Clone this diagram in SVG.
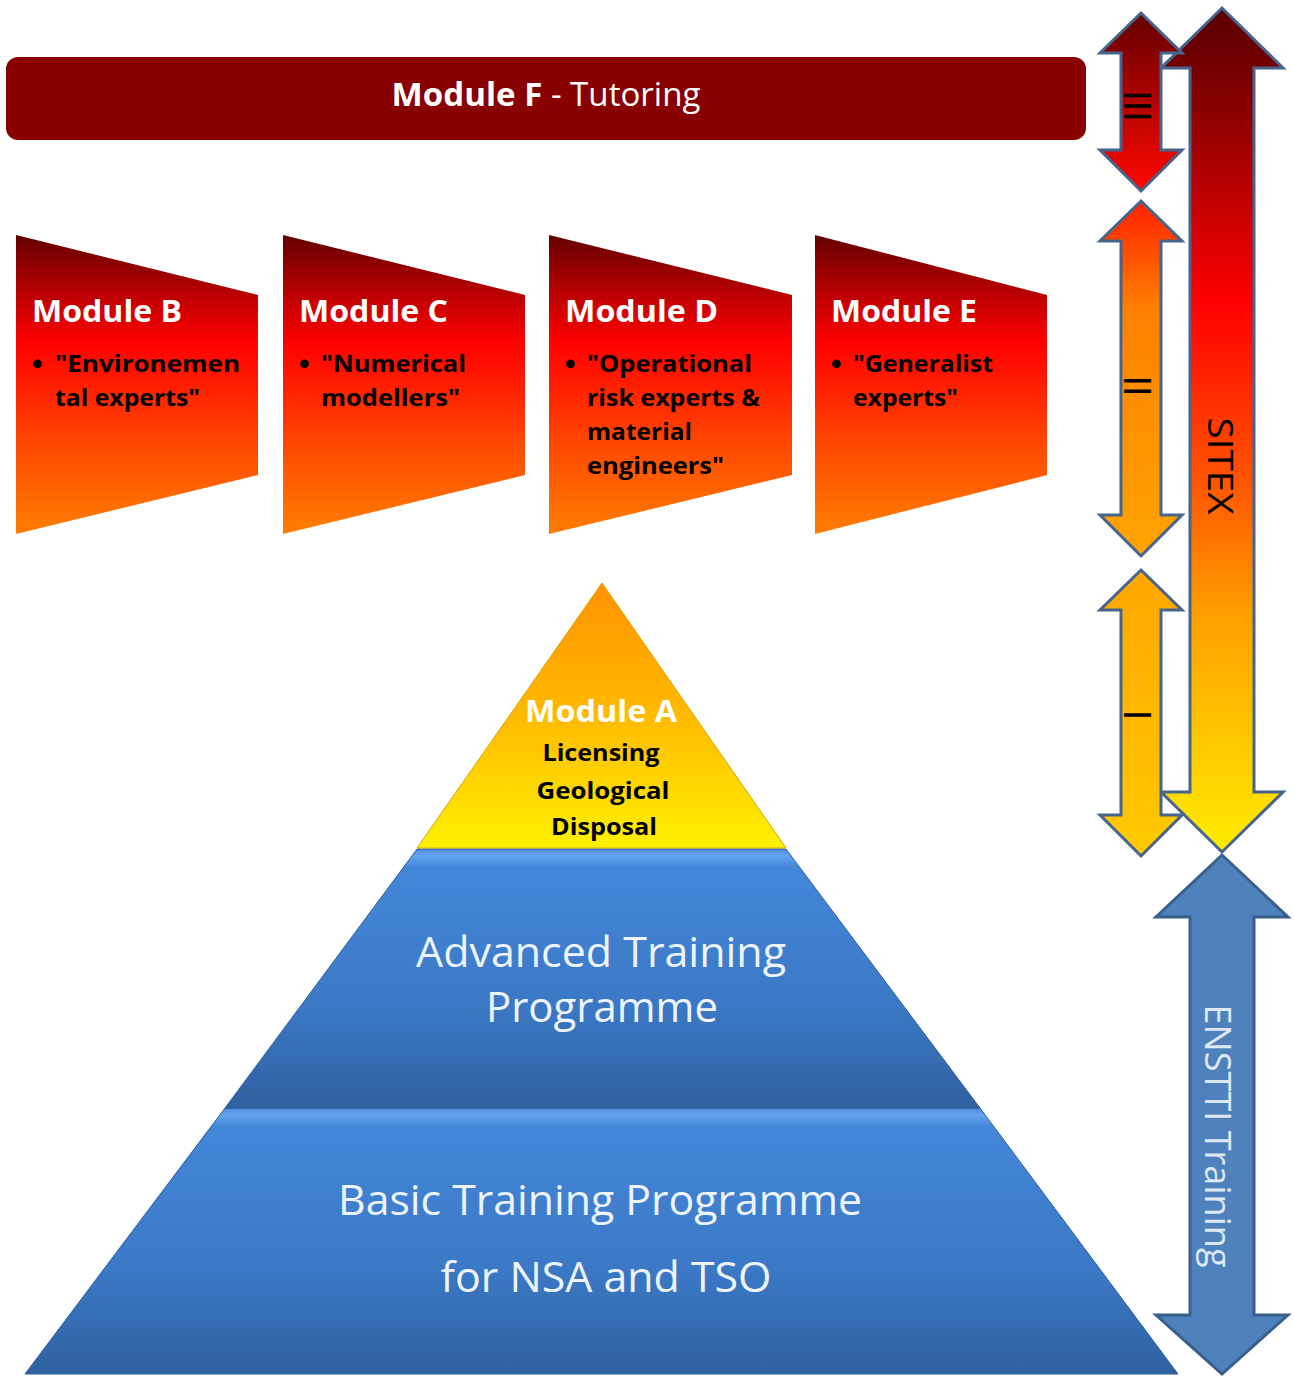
<svg xmlns="http://www.w3.org/2000/svg" width="1294" height="1376" viewBox="0 0 1294 1376">
<defs>
<linearGradient id="gMod" x1="0" y1="0" x2="0" y2="1">
<stop offset="0" stop-color="#640000"/>
<stop offset="0.22" stop-color="#c40000"/>
<stop offset="0.36" stop-color="#ff0000"/>
<stop offset="0.7" stop-color="#ff4800"/>
<stop offset="1" stop-color="#ff7e00"/>
</linearGradient>
<linearGradient id="gA" x1="0" y1="0" x2="0" y2="1">
<stop offset="0" stop-color="#ff9200"/>
<stop offset="0.5" stop-color="#ffba00"/>
<stop offset="1" stop-color="#fff000"/>
</linearGradient>
<linearGradient id="gBlue" x1="0" y1="0" x2="0" y2="1">
<stop offset="0" stop-color="#4a8ad8"/>
<stop offset="0.025" stop-color="#64a4ee"/>
<stop offset="0.07" stop-color="#4486d8"/>
<stop offset="0.6" stop-color="#3b79c6"/>
<stop offset="1" stop-color="#2f619f"/>
</linearGradient>
<linearGradient id="gSitex" x1="0" y1="8" x2="0" y2="852" gradientUnits="userSpaceOnUse">
<stop offset="0" stop-color="#580000"/>
<stop offset="0.12" stop-color="#8a0000"/>
<stop offset="0.35" stop-color="#ff0000"/>
<stop offset="0.55" stop-color="#ff5000"/>
<stop offset="0.72" stop-color="#ffa000"/>
<stop offset="1" stop-color="#ffec00"/>
</linearGradient>
<linearGradient id="gIII" x1="0" y1="0" x2="0" y2="1">
<stop offset="0" stop-color="#640000"/>
<stop offset="1" stop-color="#ff0800"/>
</linearGradient>
<linearGradient id="gII" x1="0" y1="0" x2="0" y2="1">
<stop offset="0" stop-color="#ff2000"/>
<stop offset="0.3" stop-color="#ff8000"/>
<stop offset="1" stop-color="#ffa400"/>
</linearGradient>
<linearGradient id="gI" x1="0" y1="0" x2="0" y2="1">
<stop offset="0" stop-color="#ffa600"/>
<stop offset="1" stop-color="#ffca00"/>
</linearGradient>
</defs>
<style>
.arrow { stroke: #46648c; stroke-width: 3; stroke-linejoin: miter; }
.mod { fill: url(#gMod); }
.ttl { font-family: "Open Sans", "Liberation Sans", sans-serif; font-weight: bold; fill: #ffffff; font-size: 30px; }
.bul { font-family: "Open Sans", "Liberation Sans", sans-serif; font-weight: bold; fill: #000000; font-size: 23px; }
.dot { font-family: "Liberation Sans", sans-serif; font-weight: bold; fill: #000000; font-size: 30px; }
.big { font-family: "Open Sans", "Liberation Sans", sans-serif; fill: #eef4fc; font-size: 42px; text-anchor: middle; }
.blk { font-family: "Open Sans", "Liberation Sans", sans-serif; font-weight: bold; fill: #000000; font-size: 23px; text-anchor: middle; }
.num { font-family: "Liberation Sans", sans-serif; fill: #000000; font-size: 38px; text-anchor: middle; }
</style>
<rect width="1294" height="1376" fill="#ffffff"/>

<g id="moduleF">
<rect x="6" y="57" width="1080" height="83" rx="12" ry="12" fill="#880000"/>
<text x="546" y="106" font-family="Open Sans, Liberation Sans, sans-serif" font-size="32" fill="#ffffff" text-anchor="middle" textLength="309" lengthAdjust="spacingAndGlyphs"><tspan font-weight="bold">Module F</tspan> - Tutoring</text>
</g>

<g id="moduleB">
<polygon class="mod" points="16,235 258,295 258,475 16,534"/>
<text class="ttl" x="32" y="322" textLength="150" lengthAdjust="spacingAndGlyphs">Module B</text>
<text class="dot" x="32" y="374">•</text>
<text class="bul" x="55" y="372" textLength="185" lengthAdjust="spacingAndGlyphs">"Environemen</text>
<text class="bul" x="55" y="406" textLength="145" lengthAdjust="spacingAndGlyphs">tal experts"</text>
</g>

<g id="moduleC">
<polygon class="mod" points="283,235 525,295 525,475 283,534"/>
<text class="ttl" x="299" y="322" textLength="149" lengthAdjust="spacingAndGlyphs">Module C</text>
<text class="dot" x="299" y="374">•</text>
<text class="bul" x="321" y="372" textLength="145" lengthAdjust="spacingAndGlyphs">"Numerical</text>
<text class="bul" x="321" y="406" textLength="139" lengthAdjust="spacingAndGlyphs">modellers"</text>
</g>

<g id="moduleD">
<polygon class="mod" points="549,235 792,295 792,475 549,534"/>
<text class="ttl" x="565" y="322" textLength="153" lengthAdjust="spacingAndGlyphs">Module D</text>
<text class="dot" x="565" y="374">•</text>
<text class="bul" x="587" y="372" textLength="165" lengthAdjust="spacingAndGlyphs">"Operational</text>
<text class="bul" x="587" y="406" textLength="173" lengthAdjust="spacingAndGlyphs">risk experts &amp;</text>
<text class="bul" x="587" y="440" textLength="105" lengthAdjust="spacingAndGlyphs">material</text>
<text class="bul" x="587" y="474" textLength="137" lengthAdjust="spacingAndGlyphs">engineers"</text>
</g>

<g id="moduleE">
<polygon class="mod" points="815,235 1047,295 1047,475 815,534"/>
<text class="ttl" x="831" y="322" textLength="146" lengthAdjust="spacingAndGlyphs">Module E</text>
<text class="dot" x="831" y="374">•</text>
<text class="bul" x="853" y="372" textLength="140" lengthAdjust="spacingAndGlyphs">"Generalist</text>
<text class="bul" x="853" y="406" textLength="105" lengthAdjust="spacingAndGlyphs">experts"</text>
</g>

<g id="basic">
<polygon points="225,1108 980,1108 1178,1374 25,1374" fill="url(#gBlue)" stroke="#2f5f9a" stroke-width="1"/>
<text class="big" x="600" y="1215" textLength="524" lengthAdjust="spacingAndGlyphs">Basic Training  Programme</text>
<text class="big" x="606" y="1292" textLength="331" lengthAdjust="spacingAndGlyphs">for NSA and TSO</text>
</g>

<g id="advanced">
<polygon points="417,849 786,849 980,1108 225,1108" fill="url(#gBlue)" stroke="#2f5f9a" stroke-width="1"/>
<text class="big" x="601" y="967" textLength="370" lengthAdjust="spacingAndGlyphs">Advanced  Training</text>
<text class="big" x="602" y="1022" textLength="232" lengthAdjust="spacingAndGlyphs">Programme</text>
</g>

<g id="moduleA">
<polygon points="602,583 786,848 417,848" fill="url(#gA)" stroke="#d9a300" stroke-width="1"/>
<text x="601" y="722" font-family="Open Sans, Liberation Sans, sans-serif" font-weight="bold" font-size="30" fill="#ffffff" text-anchor="middle" textLength="152" lengthAdjust="spacingAndGlyphs">Module A</text>
<text class="blk" x="601" y="761" textLength="117" lengthAdjust="spacingAndGlyphs">Licensing</text>
<text class="blk" x="603" y="799" textLength="133" lengthAdjust="spacingAndGlyphs">Geological</text>
<text class="blk" x="604" y="835" textLength="106" lengthAdjust="spacingAndGlyphs">Disposal</text>
</g>

<g id="arrows">
<g id="sitex">
<polygon class="arrow" fill="url(#gSitex)" points="1222,8 1283,68 1254,68 1254,792 1283,792 1222,852 1161,792 1190,792 1190,68 1161,68"/>
<text transform="translate(1220,466) rotate(90)" x="0" y="12" font-family="Open Sans, Liberation Sans, sans-serif" font-size="35" fill="#000000" text-anchor="middle" textLength="97" lengthAdjust="spacingAndGlyphs">SITEX</text>
</g>
<g id="level3">
<polygon class="arrow" fill="url(#gIII)" points="1141,13 1182,53 1161,53 1161,150 1182,150 1141,191 1100,150 1121,150 1121,53 1100,53"/>
<text class="num" transform="translate(1137,106) rotate(90)" x="0" y="13">III</text>
</g>
<g id="level2">
<polygon class="arrow" fill="url(#gII)" points="1141,201 1182,241 1161,241 1161,515 1182,515 1141,556 1100,515 1121,515 1121,241 1100,241"/>
<text class="num" transform="translate(1137,386) rotate(90)" x="0" y="13">II</text>
</g>
<g id="level1">
<polygon class="arrow" fill="url(#gI)" points="1141,570 1182,610 1161,610 1161,815 1182,815 1141,856 1100,815 1121,815 1121,610 1100,610"/>
<text class="num" transform="translate(1137,715) rotate(90)" x="0" y="13">I</text>
</g>
<g id="ensttiArrow">
<polygon fill="#4f81bd" stroke="#3a5f8c" stroke-width="3" points="1222,855 1288,917 1254,917 1254,1315 1288,1315 1222,1374 1156,1315 1190,1315 1190,917 1156,917"/>
<text transform="translate(1218,1136) rotate(90)" x="0" y="13" font-family="Open Sans, Liberation Sans, sans-serif" font-size="37" fill="#dde8f5" text-anchor="middle" textLength="263" lengthAdjust="spacingAndGlyphs">ENSTTI Training</text>
</g>
</g>
</svg>
